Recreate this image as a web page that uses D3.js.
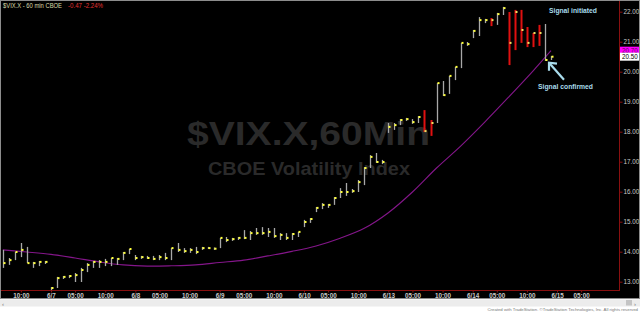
<!DOCTYPE html>
<html><head><meta charset="utf-8">
<script src="https://cdn.jsdelivr.net/npm/d3@7/dist/d3.min.js"></script>
<style>html,body{margin:0;padding:0;background:#000;} svg{display:block}</style>
</head><body>
<svg id="chart" width="640" height="312"></svg>
<script>
// ---- data (hourly bars, index 0 = 6/6 07:00) ----
const high  = [14.06,13.79,13.99,14.29,14.16,13.66,13.69,13.69,12.82,13.16,13.19,13.22,13.29,13.46,13.62,13.69,13.72,13.76,13.79,13.79,13.99,14.09,13.89,13.86,13.86,13.86,13.89,13.96,14.12,14.29,14.12,14.12,14.16,14.16,14.16,14.14,14.46,14.49,14.46,14.49,14.72,14.69,14.79,14.82,14.79,14.79,14.62,14.62,14.62,14.66,15.06,15.12,15.49,15.62,15.59,15.82,16.12,16.29,16.09,16.39,16.82,17.22,17.29,17.06,18.29,18.29,18.42,18.46,18.42,18.52,18.72,18.39,19.62,19.69,19.86,20.16,20.96,20.99,21.39,21.82,21.76,21.79,21.96,22.16,21.99,22.06,22.06,21.49,21.29,21.56,21.59,20.52];
const low   = [13.46,13.56,13.72,13.82,13.62,13.46,13.52,13.59,12.72,12.79,13.09,13.12,12.99,12.99,13.32,13.46,13.46,13.52,13.52,13.56,13.72,13.92,13.72,13.76,13.76,13.72,13.72,13.72,13.72,13.99,13.96,13.96,13.92,14.06,14.09,14.06,14.12,14.32,14.36,14.39,14.42,14.39,14.56,14.56,14.49,14.46,14.39,14.39,14.39,14.49,14.82,14.96,15.32,15.42,15.46,15.56,15.79,15.86,15.96,15.99,16.22,16.79,16.96,16.92,17.96,18.06,18.22,18.36,18.26,18.29,17.99,17.86,18.29,19.19,19.26,19.72,20.12,20.86,21.12,21.19,21.62,21.52,21.56,21.89,20.22,20.72,20.96,20.82,20.82,20.86,20.36,20.39];
const close = [13.62,13.72,13.99,14.06,13.62,13.62,13.66,13.66,12.79,13.12,13.16,13.19,13.22,13.39,13.56,13.66,13.66,13.66,13.79,13.76,13.96,14.09,13.79,13.82,13.79,13.76,13.82,13.79,14.12,14.06,14.02,14.06,13.99,14.12,14.12,14.10,14.46,14.39,14.42,14.46,14.46,14.62,14.62,14.62,14.66,14.52,14.56,14.46,14.59,14.66,14.99,15.09,15.46,15.56,15.56,15.79,15.99,15.99,16.02,16.32,16.79,17.16,16.99,16.99,18.16,18.22,18.39,18.42,18.32,18.49,18.02,18.29,19.62,19.22,19.86,20.16,20.96,20.92,21.36,21.72,21.72,21.72,21.92,22.12,20.96,21.99,21.39,20.96,21.29,21.29,20.39,20.50];
// bars flagged by the paint-bar study (drawn red)
const flagged = [70,71,81,84,85,86,87,88,89];
// moving average, sampled bar indices and values
const maIndex  = [0,4,8,12,16,20,24,28,32,36,40,44,48,52,56,60,64,68,72,76,80,84,88,91];
const maValues = [14.06,13.99,13.91,13.79,13.66,13.56,13.52,13.53,13.56,13.64,13.72,13.86,14.01,14.19,14.45,14.78,15.30,15.99,16.79,17.52,18.32,19.16,20.02,20.70];
const yTicks = [13,14,15,16,17,18,19,20,21,22];
const xTickIndex  = [3,8,12,17,22,26,31,36,40,45,50,54,59,64,68,73,78,82,87,92,96];
const xTickLabels = ["10:00","6/7","05:00","10:00","6/8","05:00","10:00","6/9","05:00","10:00","6/10","05:00","10:00","6/13","05:00","10:00","6/14","05:00","10:00","6/15","05:00"];
const lastClose = 20.50, lastMA = 20.70;
const header = "$VIX.X - 60 min CBOE", headerChange = "-0.47  -2.24%";

// ---- drawing ----
const svg = d3.select("#chart");
const W = 640, H = 312;
const axisX = 619, axisY = 290;
const x = d3.scaleLinear().domain([0, 91]).range([2.8, 551.0]);
const y = d3.scaleLinear().domain([13, 22]).range([281.7, 11.7]);
const font = "'Liberation Sans', Arial, sans-serif";

svg.append("rect").attr("width", W).attr("height", H).attr("fill", "#000");

// watermark
svg.append("text").attr("x", 187).attr("y", 145).attr("font-family", font).attr("font-weight", "bold")
  .attr("font-size", 34).attr("fill", "#2a2a2a").attr("textLength", 243).attr("lengthAdjust", "spacingAndGlyphs")
  .text("$VIX.X,60Min");
svg.append("text").attr("x", 208).attr("y", 175).attr("font-family", font).attr("font-weight", "bold")
  .attr("font-size", 19).attr("fill", "#2a2a2a").attr("textLength", 202).attr("lengthAdjust", "spacingAndGlyphs")
  .text("CBOE Volatility Index");

// axes lines
svg.append("line").attr("x1", 0).attr("x2", axisX).attr("y1", axisY + 0.5).attr("y2", axisY + 0.5).attr("stroke", "#8a1010").attr("stroke-width", 1);
svg.append("line").attr("x1", axisX + 0.5).attr("x2", axisX + 0.5).attr("y1", 0).attr("y2", axisY + 1).attr("stroke", "#8a1010").attr("stroke-width", 1);

// y axis
const yAxis = d3.axisRight(y).tickValues(yTicks).tickFormat(d3.format(".2f")).tickSize(3).tickPadding(1);
const gy = svg.append("g").attr("transform", `translate(${axisX + 0.5},0)`).call(yAxis);
gy.select(".domain").remove();
gy.selectAll(".tick line").attr("stroke", "#8a1010");
gy.selectAll(".tick text").attr("fill", "#c8c8c8").attr("font-family", font).attr("font-size", 6.3);

// x axis
const xAxis = d3.axisBottom(x).tickValues(xTickIndex).tickFormat((d, i) => xTickLabels[i]).tickSize(2).tickPadding(1.5);
const gx = svg.append("g").attr("transform", `translate(0,${axisY + 0.5})`).call(xAxis);
gx.select(".domain").remove();
gx.selectAll(".tick line").attr("stroke", "#8a1010");
gx.selectAll(".tick text").attr("fill", "#c8c8c8").attr("font-family", font).attr("font-size", 6.3).attr("font-weight", "bold");

// moving average
const maLine = d3.line().x((d, i) => x(maIndex[i])).y(d => y(d)).curve(d3.curveCatmullRom.alpha(0.5));
svg.append("path").datum(maValues).attr("d", maLine).attr("fill", "none").attr("stroke", "#84168a").attr("stroke-width", 1.1);

// bars
const bars = d3.range(high.length);
const isRed = i => flagged.includes(i);
svg.append("g").selectAll("line").data(bars).join("line")
  .attr("x1", i => Math.round(x(i)) + 0.5).attr("x2", i => Math.round(x(i)) + 0.5)
  .attr("y1", i => y(high[i])).attr("y2", i => Math.max(y(low[i]), y(high[i]) + 1.5))
  .attr("stroke", i => isRed(i) ? "#e01010" : "#a8a8a8")
  .attr("stroke-width", i => isRed(i) ? 2 : 1.3);
svg.append("g").selectAll("rect").data(bars).join("rect")
  .attr("x", i => Math.round(x(i)) + 0.5).attr("y", i => y(close[i]) - 1)
  .attr("width", 2).attr("height", 2)
  .attr("fill", i => isRed(i) ? "#f0e060" : "#ffff3a");

// price markers on right axis
svg.append("rect").attr("x", axisX + 1).attr("y", y(lastMA) - 4).attr("width", W - axisX - 1).attr("height", 8).attr("fill", "#ff00ff");
svg.append("text").attr("x", axisX + 3).attr("y", y(lastMA) + 2.3).attr("font-family", font).attr("font-size", 6.3).attr("fill", "#600060").text(lastMA.toFixed(2));
svg.append("rect").attr("x", axisX + 1).attr("y", y(lastClose) - 4).attr("width", W - axisX - 1).attr("height", 8).attr("fill", "#ffffff");
svg.append("text").attr("x", axisX + 3).attr("y", y(lastClose) + 2.3).attr("font-family", font).attr("font-size", 6.3).attr("fill", "#000").text(lastClose.toFixed(2));

// annotations
const cyan = "#a9dcec";
svg.append("text").attr("x", 549).attr("y", 13).attr("font-family", font).attr("font-weight", "bold").attr("font-size", 7.5)
  .attr("fill", cyan).attr("textLength", 48).attr("lengthAdjust", "spacingAndGlyphs").text("Signal initiated");
svg.append("text").attr("x", 538).attr("y", 89).attr("font-family", font).attr("font-weight", "bold").attr("font-size", 7.5)
  .attr("fill", cyan).attr("textLength", 55).attr("lengthAdjust", "spacingAndGlyphs").text("Signal confirmed");
const tip = [x(91) - 2, y(lastClose) + 6];
svg.append("line").attr("x1", tip[0]).attr("y1", tip[1]).attr("x2", tip[0] + 15).attr("y2", tip[1] + 17)
  .attr("stroke", cyan).attr("stroke-width", 2.2);
svg.append("path").attr("d", `M${tip[0]},${tip[1] + 8} L${tip[0]},${tip[1]} L${tip[0] + 8},${tip[1] + 1}`)
  .attr("fill", "none").attr("stroke", cyan).attr("stroke-width", 2.2);

// header
svg.append("text").attr("x", 3).attr("y", 8).attr("font-family", font).attr("font-size", 6.5)
  .attr("fill", "#dcdca8").attr("textLength", 59).attr("lengthAdjust", "spacingAndGlyphs").text(header);
svg.append("text").attr("x", 68).attr("y", 8).attr("font-family", font).attr("font-size", 6.5)
  .attr("fill", "#e03030").attr("textLength", 35).attr("lengthAdjust", "spacingAndGlyphs").text(headerChange);

// frame
svg.append("rect").attr("x", 0.5).attr("y", 0.5).attr("width", W - 1).attr("height", 298).attr("fill", "none").attr("stroke", "#8c8c8c");

// scrollbar and footer
svg.append("rect").attr("x", 0).attr("y", 299).attr("width", W).attr("height", 13).attr("fill", "#ffffff");
svg.append("rect").attr("x", 0).attr("y", 299.5).attr("width", W).attr("height", 7).attr("fill", "#ececec");
svg.append("rect").attr("x", 626).attr("y", 300).attr("width", 6).attr("height", 5.5).attr("fill", "#c4c4c4");
svg.append("text").attr("x", 2).attr("y", 305.5).attr("font-size", 6).attr("fill", "#777").attr("font-family", font).text("‹");
svg.append("text").attr("x", 634).attr("y", 305.5).attr("font-size", 6).attr("fill", "#777").attr("font-family", font).text("›");
svg.append("text").attr("x", 638).attr("y", 311).attr("text-anchor", "end").attr("font-family", font).attr("font-size", 4.3)
  .attr("fill", "#777").text("Created with TradeStation. ©TradeStation Technologies, Inc. All rights reserved");
</script>
</body></html>
